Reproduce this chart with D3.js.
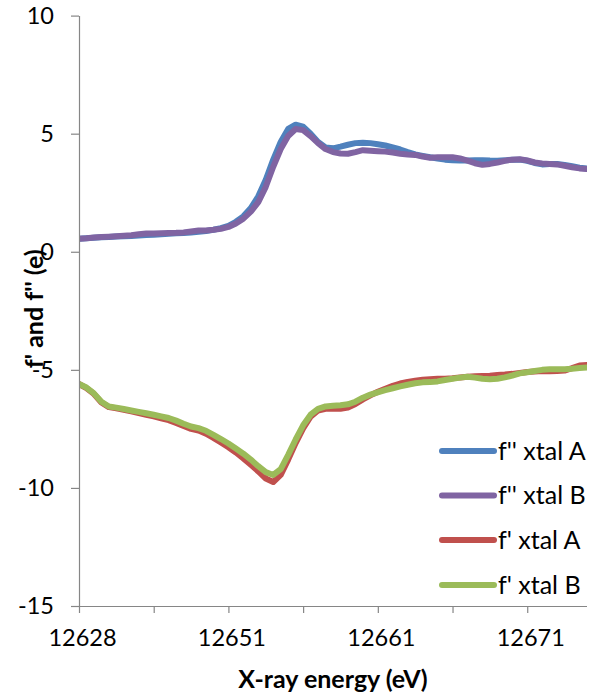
<!DOCTYPE html>
<html>
<head>
<meta charset="utf-8">
<script src="https://cdn.jsdelivr.net/npm/d3@7"></script>
<style>
  html, body { margin: 0; padding: 0; background: #fff; }
  svg { display: block; }
  text { font-family: Lato, "Open Sans", sans-serif; fill: #000; }
</style>
</head>
<body>
<svg id="chart" width="589" height="695"></svg>
<script>
// X-ray energies of the scan (eV), one category per measured point
const energies = [12628,12630,12632,12634,12635,12636,12637,12638,12639,12640,12641,12642,12643,12644,12645,12646,12647,12648,12649,12650,12651,
  12651.5,12652,12652.5,12653,12653.5,12654,12654.5,12655,12655.5,12656,12656.5,12657,12657.5,12658,12658.5,12659,12659.5,12660,12660.5,
  12661,12661.5,12662,12662.5,12663,12663.5,12664,12664.5,12665,12665.5,12666,12666.5,12667,12667.5,12668,12668.5,12669,12669.5,12670,12670.5,
  12671,12671.5,12672,12672.5,12673,12673.5,12674,12674.5,12675];

// f'' (anomalous absorption) for the two crystals
const fppXtalA = [0.55,0.57,0.59,0.61,0.63,0.65,0.66,0.67,0.69,0.71,0.72,0.74,0.76,0.78,0.79,0.82,0.85,0.88,0.93,1.00,1.10,
  1.27,1.50,1.85,2.35,3.05,3.90,4.65,5.20,5.38,5.30,5.00,4.65,4.42,4.38,4.45,4.53,4.60,4.62,4.60,
  4.55,4.50,4.42,4.33,4.22,4.12,4.06,4.00,3.95,3.90,3.87,3.86,3.86,3.88,3.88,3.86,3.85,3.87,3.90,3.90,
  3.85,3.76,3.70,3.72,3.72,3.68,3.62,3.56,3.52];
const fppXtalB = [0.55,0.57,0.60,0.62,0.64,0.66,0.68,0.70,0.74,0.77,0.77,0.78,0.79,0.80,0.82,0.86,0.90,0.90,0.93,0.97,1.05,
  1.20,1.40,1.70,2.10,2.75,3.60,4.35,4.90,5.20,5.15,4.90,4.60,4.35,4.22,4.16,4.15,4.22,4.30,4.28,
  4.26,4.24,4.20,4.15,4.12,4.10,4.03,3.98,4.00,4.00,4.00,3.95,3.86,3.75,3.68,3.72,3.78,3.85,3.90,3.92,
  3.87,3.78,3.74,3.72,3.70,3.64,3.58,3.53,3.50];

// f' (anomalous dispersion) for the two crystals
const fpXtalA = [-5.60,-5.77,-6.02,-6.38,-6.58,-6.63,-6.69,-6.76,-6.83,-6.90,-6.97,-7.05,-7.13,-7.25,-7.38,-7.50,-7.57,-7.70,-7.88,-8.08,-8.28,
  -8.50,-8.75,-9.02,-9.30,-9.60,-9.75,-9.45,-8.80,-8.10,-7.48,-6.98,-6.72,-6.65,-6.65,-6.65,-6.60,-6.45,-6.25,-6.08,
  -5.93,-5.80,-5.68,-5.58,-5.51,-5.46,-5.42,-5.40,-5.38,-5.38,-5.36,-5.32,-5.29,-5.27,-5.26,-5.25,-5.22,-5.20,-5.17,-5.13,
  -5.09,-5.07,-5.05,-5.06,-5.05,-5.03,-4.93,-4.82,-4.80];
const fpXtalB = [-5.60,-5.75,-6.00,-6.35,-6.55,-6.60,-6.66,-6.72,-6.78,-6.84,-6.90,-6.97,-7.04,-7.15,-7.28,-7.40,-7.47,-7.58,-7.75,-7.93,-8.12,
  -8.33,-8.55,-8.80,-9.08,-9.33,-9.45,-9.20,-8.60,-7.95,-7.35,-6.90,-6.65,-6.55,-6.52,-6.50,-6.46,-6.35,-6.18,-6.05,
  -5.95,-5.86,-5.78,-5.70,-5.63,-5.57,-5.53,-5.52,-5.49,-5.43,-5.38,-5.33,-5.29,-5.33,-5.38,-5.40,-5.38,-5.32,-5.24,-5.15,
  -5.10,-5.05,-5.00,-4.98,-4.97,-4.97,-4.95,-4.92,-4.90];

const seriesNames = ["f'' xtal A", "f'' xtal B", "f' xtal A", "f' xtal B"];
const seriesColors = ["#4F81BD", "#8064A2", "#C0504D", "#9BBB59"];
const yTicks = [-15, -10, -5, 0, 5, 10];

const series = [fppXtalA, fppXtalB, fpXtalA, fpXtalB].map((values, k) => ({
  name: seriesNames[k], color: seriesColors[k], values
}));

const svg = d3.select("#chart");
const plot = { left: 79, right: 587, top: 15.6, bottom: 606 };

// category axis: one step per scan point
const x = d3.scaleLinear().domain([0, energies.length - 1]).range([plot.left, plot.right]);
const y = d3.scaleLinear().domain([-15, 10]).range([plot.bottom, plot.top]);

svg.append("defs").append("clipPath").attr("id", "plotClip")
  .append("rect")
  .attr("x", plot.left).attr("y", plot.top - 10)
  .attr("width", plot.right - plot.left).attr("height", plot.bottom - plot.top + 10);

const line = d3.line()
  .x((d, i) => x(i))
  .y(d => y(d));

const lines = svg.append("g").attr("clip-path", "url(#plotClip)");
series.forEach(s => {
  lines.append("path")
    .attr("d", line(s.values))
    .attr("fill", "none")
    .attr("stroke", s.color)
    .attr("stroke-width", 6)
    .attr("stroke-linejoin", "round")
    .attr("stroke-linecap", "round");
});

// y axis
const yAxis = svg.append("g")
  .attr("transform", `translate(${plot.left},0)`)
  .call(d3.axisLeft(y).tickValues(yTicks).tickSize(8).tickSizeOuter(0).tickPadding(17).tickFormat(d => String(d)));

// x axis: tick every 10 points, label every 20
const xAxis = svg.append("g")
  .attr("transform", `translate(0,${plot.bottom})`)
  .call(d3.axisBottom(x)
    .tickValues(d3.range(0, energies.length, 10))
    .tickSize(7).tickSizeOuter(0).tickPadding(16)
    .tickFormat(i => i % 20 === 0 ? String(energies[i]) : ""));

[xAxis, yAxis].forEach(g => {
  g.select(".domain").attr("stroke", "#868686").attr("stroke-width", 1.2);
  g.selectAll(".tick line").attr("stroke", "#868686").attr("stroke-width", 1.2);
  g.selectAll(".tick text").style("font-size", "23.5px").attr("fill", "#000");
});
xAxis.select(".domain").attr("d", `M${plot.left},0.5H${plot.right}`);
xAxis.selectAll(".tick text").attr("dx", 3);

// axis titles
svg.append("text")
  .attr("x", (plot.left + plot.right) / 2)
  .attr("y", 688)
  .attr("text-anchor", "middle")
  .style("font-size", "25px").style("font-weight", "bold")
  .text("X-ray energy (eV)");

svg.append("text")
  .attr("transform", `translate(43,${(plot.top + plot.bottom) / 2 - 2}) rotate(-90)`)
  .attr("text-anchor", "middle")
  .style("font-size", "25px").style("font-weight", "bold")
  .text("f' and f'' (e)");

// legend
const legend = svg.append("g");
const legendY = [451, 495.5, 540, 585];
series.forEach((s, k) => {
  legend.append("line")
    .attr("x1", 442).attr("x2", 494)
    .attr("y1", legendY[k]).attr("y2", legendY[k])
    .attr("stroke", s.color).attr("stroke-width", 6).attr("stroke-linecap", "round");
  legend.append("text")
    .attr("x", 498).attr("y", legendY[k])
    .attr("dy", "0.35em")
    .style("font-size", "25px")
    .text(s.name);
});
</script>
</body>
</html>
